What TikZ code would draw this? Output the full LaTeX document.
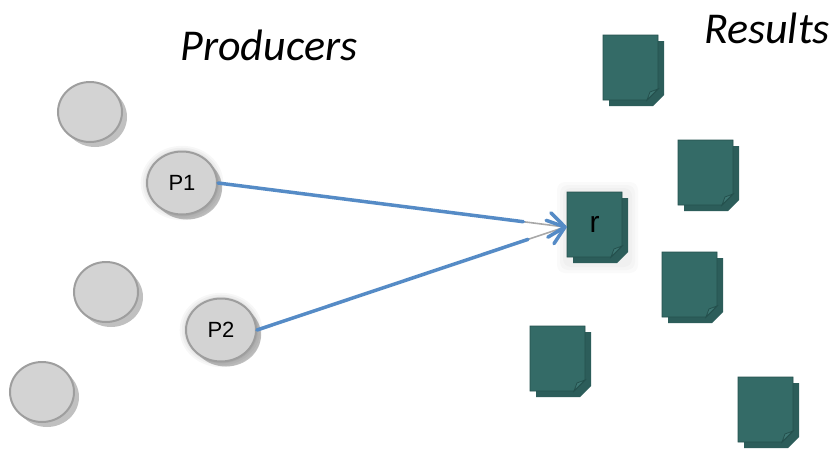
\documentclass[tikz,border=0pt]{standalone}
\usepackage{fontspec}
\setmainfont{Liberation Sans}
\newfontfamily\titlefont{Carlito}
\usetikzlibrary{shapes.geometric,calc,shadows}

\definecolor{circfill}{HTML}{D3D3D3}
\definecolor{circline}{HTML}{9E9E9E}
\definecolor{circshadow}{HTML}{C0C0C0}
\definecolor{docface}{HTML}{346B67}
\definecolor{docback}{HTML}{2C5D5A}
\definecolor{docedge}{HTML}{24504D}
\definecolor{docfold}{HTML}{3E7773}
\definecolor{arrowblue}{HTML}{558BC6}
\definecolor{shaftgray}{HTML}{A8A8A8}

\tikzset{
  disc/.style={ellipse, minimum width=64pt, minimum height=60pt, inner sep=0pt,
    fill=circfill, draw=circline, line width=2pt,
    drop shadow={shadow xshift=5pt, shadow yshift=-5pt, fill=circshadow, opacity=1}},
  bigdisc/.style={disc, minimum width=70pt, minimum height=63pt,
    general shadow={shadow scale=1.18, fill=black, opacity=.03},
    general shadow={shadow scale=1.12, fill=black, opacity=.035},
    general shadow={shadow scale=1.06, fill=black, opacity=.04},
    font=\fontsize{22}{22}\selectfont},
  doclabel/.style={anchor=north west, minimum width=55pt, minimum height=65pt,
    inner sep=0pt, font=\fontsize{30}{30}\selectfont, text=black},
  title/.style={font=\titlefont\itshape\fontsize{44}{44}\selectfont},
  arrowline/.style={draw=arrowblue, line width=3.5pt, line cap=round, line join=round},
  shaft/.style={draw=shaftgray, line width=1.6pt},
}

% a stacked sheet with a curled corner; #1 name, #2/#3 top-left corner, #4 label
\newcommand\docsheet[4]{%
  \fill[docback] (#2+6,#3+6) -- (#2+61,#3+6) -- (#2+61,#3+60) -- (#2+50,#3+71)
    -- (#2+6,#3+71) -- cycle;
  \filldraw[fill=docface, draw=docedge, line width=0.8pt]
    (#2,#3) -- (#2+55,#3) -- (#2+55,#3+54) -- (#2+44,#3+65) -- (#2,#3+65) -- cycle;
  \filldraw[fill=docfold, draw=docedge, line width=0.8pt]
    (#2+55,#3+54) -- (#2+44,#3+65) -- (#2+47,#3+57) -- cycle;
  \node[doclabel] (#1) at (#2,#3) {#4};%
}

\begin{document}
\begin{tikzpicture}[x=1pt,y=-1pt]
  \useasboundingbox[fill=white] (0,0) rectangle (836,450);

  % titles
  \node[title] (prod) at (269,45) {Producers};
  \node[title] (res) at (767,28) {Results};

  % producers
  \node[disc] (c1) at (90,112) {};
  \node[disc] (c2) at (106,292) {};
  \node[disc] (c3) at (42,392) {};
  \node[bigdisc] (P1) at (182,183) {P1};
  \node[bigdisc] (P2) at (221,330) {P2};

  % soft glow behind the selected result
  \foreach \g in {10,7,4}
    \fill[black, opacity=.018, rounded corners=8pt] (567-\g,192-\g) rectangle (628+\g,263+\g);

  % results
  \docsheet{d1}{603}{35}{}
  \docsheet{d2}{678}{140}{}
  \docsheet{r}{567}{192}{r}
  \docsheet{d3}{662}{252}{}
  \docsheet{d4}{530}{326}{}
  \docsheet{d5}{738}{377}{}

  % producers delivering to the result
  \coordinate (tip) at (565,227);
  \foreach \s in {P1,P2} {
    \draw[shaft] ($(\s.east)!0.88!(tip)$) -- (tip);
    \draw[arrowline] (\s.east) -- ($(\s.east)!0.88!(tip)$);
  }
  \foreach \s in {P1,P2} {
    \draw[arrowline] ($(tip)!20pt!38:(\s.east)$) -- (tip) -- ($(tip)!20pt!-38:(\s.east)$);
  }
\end{tikzpicture}
\end{document}
